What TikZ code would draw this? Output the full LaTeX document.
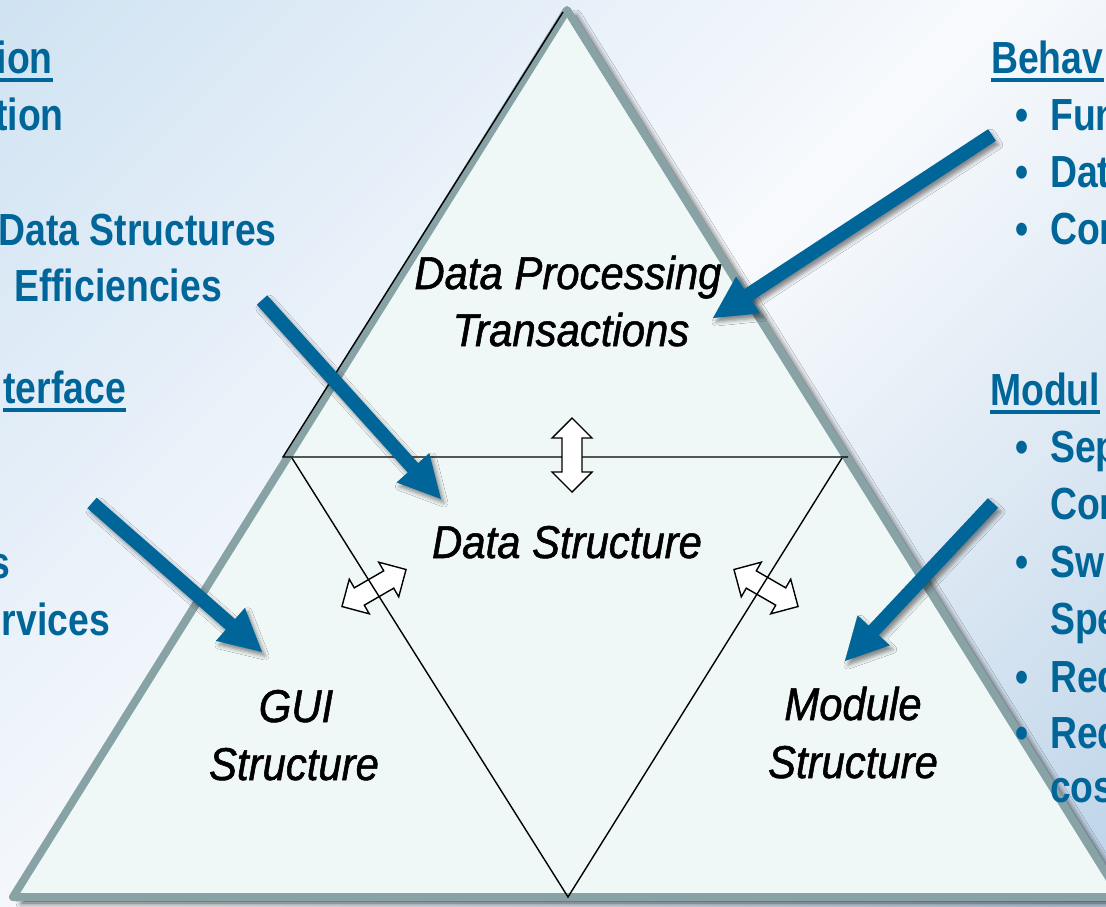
\documentclass[tikz,border=0pt]{standalone}
\usepackage{fontspec}
\setmainfont{Liberation Sans}
\newfontfamily\labelfont[FakeStretch=0.91, FakeBold=1.2]{Liberation Sans}
\newfontfamily\notefont[FakeStretch=0.83]{Liberation Sans}
\usetikzlibrary{calc,shadows.blur}

\definecolor{noteblue}{HTML}{006699}
\definecolor{edgegray}{HTML}{88A3A5}
\definecolor{pyrfill}{HTML}{F0F8F7}
\definecolor{washA}{HTML}{D0E3F2}
\definecolor{washB}{HTML}{E4EEF8}
\definecolor{washC}{HTML}{F8FAFD}
\definecolor{washD}{HTML}{DCE8F3}
\definecolor{washE}{HTML}{BED4E9}

% diagonal background wash
\pgfdeclarehorizontalshading{bgwash}{100bp}{color(0bp)=(washA); color(15bp)=(washA);
  color(32bp)=(washB); color(50bp)=(washC); color(68bp)=(washD); color(85bp)=(washE);
  color(100bp)=(washE)}

\tikzset{
  lbl/.style={font=\labelfont\itshape\fontsize{46}{55}\selectfont, inner sep=0pt, anchor=base},
  note/.style={font=\notefont\bfseries\fontsize{45}{54}\selectfont, text=noteblue, inner sep=0pt},
  ulrule/.style={draw=noteblue, line width=3.5pt},
  thinline/.style={draw=black, line width=1.4pt},
  dblbox/.style={draw=black, fill=white, line width=1.4pt, line join=miter},
  ptrshadow/.style={blur shadow={shadow xshift=3pt, shadow yshift=-4pt, shadow blur radius=4pt, shadow opacity=45}},
}

% thick blue pointer from #1 (tail) to #2 (tip)
\newcommand\blueptr[2]{%
  \path let \p1=($(#2)-(#1)$), \n1={atan2(\y1,\x1)}, \n2={veclen(\x1,\y1)} in
    \pgfextra{\xdef\ptrang{\n1}\xdef\ptrlen{\n2}};
  \fill[noteblue, ptrshadow, shift={(#1)}, rotate=\ptrang]
    (0,7) -- (\ptrlen-42,7) -- (\ptrlen-42,22) -- (\ptrlen,0)
    -- (\ptrlen-42,-22) -- (\ptrlen-42,-7) -- (0,-7) -- cycle;}

% white two-headed arrow centred at #1, turned by #2 degrees
\newcommand\twohead[2]{%
  \draw[dblbox, shift={(#1)}, rotate=#2]
    (-37,0) -- (-17,20) -- (-17,10) -- (17,10) -- (17,20) -- (37,0)
    -- (17,-20) -- (17,-10) -- (-17,-10) -- (-17,-20) -- cycle;}

\begin{document}
\begin{tikzpicture}[x=1pt,y=-1pt]
\clip (0,0) rectangle (1106,906);
\shade[shading=bgwash, shading angle=-45] (0,0) rectangle (1106,906);

% pyramid
\coordinate (apex) at (567,10);
\coordinate (bl) at (13,897);
\coordinate (br) at (1121,897);
\path[draw=edgegray, line width=8pt, line join=round, fill=pyrfill,
  blur shadow={shadow xshift=9pt, shadow yshift=-6pt, shadow blur radius=6pt, shadow opacity=75}]
  (apex) -- (bl) -- (br) -- cycle;

% top section outline
\coordinate (tl) at (283,457);
\coordinate (tr) at (848,457);
\draw[thinline] (563,12) -- (tl) -- (tr);

% links between sections
\twohead{572,455}{90}

% centre section outline
\coordinate (vl) at (292,458);
\coordinate (vr) at (842,458);
\coordinate (vb) at (568,897);
\twohead{374,588}{30}
\twohead{766,588}{-30}
\draw[thinline] (vl) -- (vb) -- (vr);

% section labels
\node[lbl] (dp1) at (568,289) {Data Processing};
\node[lbl] (dp2) at (571,346) {Transactions};
\node[lbl] (ds)  at (567,558) {Data Structure};
\node[lbl] (gui1) at (296,722) {GUI};
\node[lbl] (gui2) at (294,780) {Structure};
\node[lbl] (mod1) at (853,720) {Module};
\node[lbl] (mod2) at (853,778) {Structure};

% pointers
\coordinate (dsTail) at (262,300);  \coordinate (dsTip) at (441,499);
\coordinate (guiTail) at (92,503);  \coordinate (guiTip) at (262,652);
\coordinate (dpTail) at (992,135);  \coordinate (dpTip) at (713,318);
\coordinate (modTail) at (993,503); \coordinate (modTip) at (845,661);
\blueptr{dsTail}{dsTip}
\blueptr{guiTail}{guiTip}
\blueptr{dpTail}{dpTip}
\blueptr{modTail}{modTip}

% notes on the left
\node[note, anchor=base east] (l1) at (53,73) {ion};
\draw[ulrule] ([yshift=-7pt]l1.base west) -- ([yshift=-7pt]l1.base east);
\node[note, anchor=base east] (l2) at (64,130) {tion};
\node[note, anchor=base east] (l3) at (277,245) {Data Structures};
\node[note, anchor=base east] (l4) at (222,301) {Efficiencies};
\node[note, anchor=base east] (l5) at (126,403) {terface};
\draw[ulrule] ([yshift=-7pt]l5.base west) -- ([yshift=-7pt]l5.base east);
\node[note, anchor=base east] (l6) at (10,578) {s};
\node[note, anchor=base east] (l7) at (110,635) {rvices};

% notes on the right
\node[note, anchor=base west] (r1) at (991,73) {Behav};
\draw[ulrule] ([yshift=-7pt]r1.base west) -- ([yshift=-7pt]r1.base east);
\node[note, anchor=base west] (r2b) at (1015,130) {\textbullet};
\node[note, anchor=base west] (r2) at (1050,130) {Fun};
\node[note, anchor=base west] (r3b) at (1015,187) {\textbullet};
\node[note, anchor=base west] (r3) at (1050,187) {Dat};
\node[note, anchor=base west] (r4b) at (1015,244) {\textbullet};
\node[note, anchor=base west] (r4) at (1050,244) {Con};
\node[note, anchor=base west] (r5) at (990,405) {Modul};
\draw[ulrule] ([yshift=-7pt]r5.base west) -- ([yshift=-7pt]r5.base east);
\node[note, anchor=base west] (r6b) at (1015,462) {\textbullet};
\node[note, anchor=base west] (r6) at (1050,462) {Sep};
\node[note, anchor=base west] (r7) at (1050,519) {Con};
\node[note, anchor=base west] (r8b) at (1015,577) {\textbullet};
\node[note, anchor=base west] (r8) at (1050,577) {Sw};
\node[note, anchor=base west] (r9) at (1050,634) {Spe};
\node[note, anchor=base west] (r10b) at (1015,692) {\textbullet};
\node[note, anchor=base west] (r10) at (1050,692) {Red};
\node[note, anchor=base west] (r11b) at (1015,748) {\textbullet};
\node[note, anchor=base west] (r11) at (1050,748) {Red};
\node[note, anchor=base west] (r12) at (1050,802) {cos};
\end{tikzpicture}
\end{document}
